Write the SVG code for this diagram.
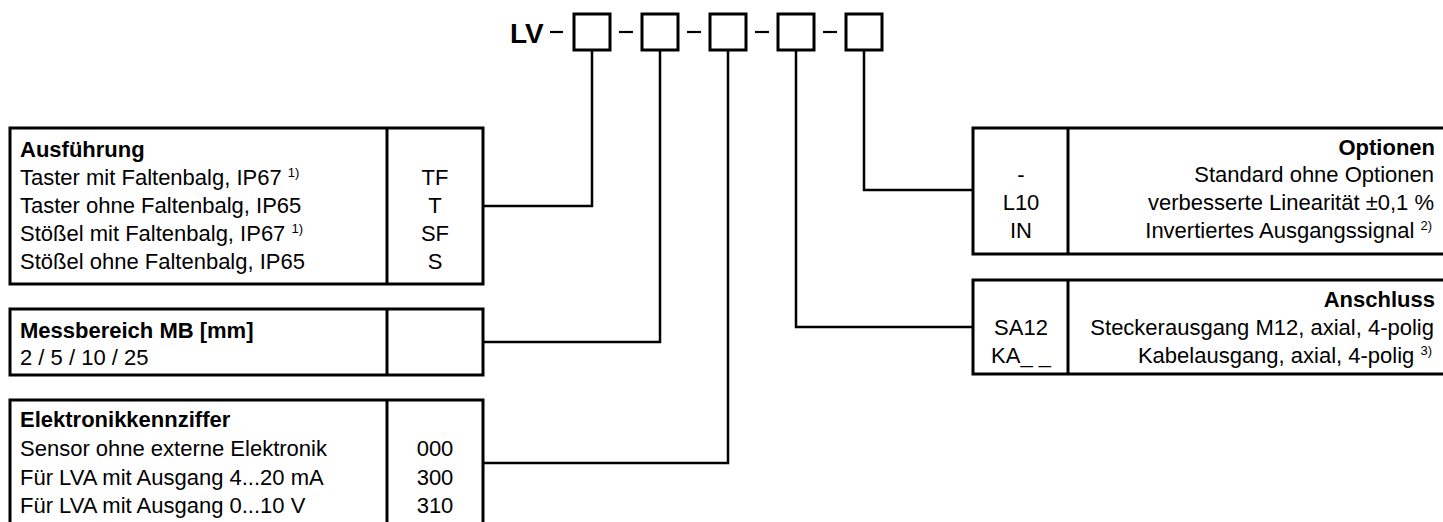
<svg xmlns="http://www.w3.org/2000/svg" width="1443" height="522" viewBox="0 0 1443 522">
  <style>
    text { font-family: "Liberation Sans", Arial, sans-serif; font-size: 22px; fill: #000; }
    .b { font-weight: bold; }
    .c { text-anchor: middle; }
    .r { text-anchor: end; }
    .sup { font-size: 13px; }
    .box { fill: none; stroke: #000; stroke-width: 3; }
    .div { stroke: #000; stroke-width: 3; }
    .wire { fill: none; stroke: #000; stroke-width: 2.5; }
    .dash { stroke: #000; stroke-width: 2.2; }
  </style>

  <!-- order code header -->
  <g id="code">
    <text x="510" y="43" class="b" style="font-size:28px">LV</text>
    <line class="dash" x1="550" y1="32" x2="563" y2="32"/>
    <line class="dash" x1="619" y1="32" x2="633" y2="32"/>
    <line class="dash" x1="687" y1="32" x2="701" y2="32"/>
    <line class="dash" x1="755" y1="32" x2="769" y2="32"/>
    <line class="dash" x1="823" y1="32" x2="837" y2="32"/>
    <rect class="box" x="574" y="14" width="36" height="36"/>
    <rect class="box" x="642" y="14" width="36" height="36"/>
    <rect class="box" x="710" y="14" width="36" height="36"/>
    <rect class="box" x="778" y="14" width="36" height="36"/>
    <rect class="box" x="846" y="14" width="36" height="36"/>
  </g>

  <!-- leader lines from code fields to option tables -->
  <g id="connectors">
    <polyline class="wire" points="592,50 592,206 483,206"/>
    <polyline class="wire" points="660,50 660,342 483,342"/>
    <polyline class="wire" points="728,50 728,463 483,463"/>
    <polyline class="wire" points="796,50 796,327 973,327"/>
    <polyline class="wire" points="864,50 864,190 973,190"/>
  </g>

  <g id="ausfuehrung">
    <rect class="box" x="10" y="128" width="473" height="156"/>
    <line class="div" x1="387" y1="128" x2="387" y2="284"/>
    <text x="20" y="157" class="b">Ausführung</text>
    <text x="20" y="185">Taster mit Faltenbalg, IP67 <tspan class="sup" dy="-8">1)</tspan></text>
    <text x="20" y="213">Taster ohne Faltenbalg, IP65</text>
    <text x="20" y="241">Stößel mit Faltenbalg, IP67 <tspan class="sup" dy="-8">1)</tspan></text>
    <text x="20" y="269">Stößel ohne Faltenbalg, IP65</text>
    <text x="435" y="185" class="c">TF</text>
    <text x="435" y="213" class="c">T</text>
    <text x="435" y="241" class="c">SF</text>
    <text x="435" y="269" class="c">S</text>
  </g>

  <g id="messbereich">
    <rect class="box" x="10" y="309" width="473" height="66"/>
    <line class="div" x1="387" y1="309" x2="387" y2="375"/>
    <text x="20" y="338" class="b">Messbereich MB [mm]</text>
    <text x="20" y="365">2 / 5 / 10 / 25</text>
  </g>

  <g id="elektronik">
    <rect class="box" x="10" y="400" width="473" height="128"/>
    <line class="div" x1="387" y1="400" x2="387" y2="528"/>
    <text x="20" y="427" class="b">Elektronikkennziffer</text>
    <text x="20" y="456">Sensor ohne externe Elektronik</text>
    <text x="20" y="485">Für LVA mit Ausgang 4...20 mA</text>
    <text x="20" y="513">Für LVA mit Ausgang 0...10 V</text>
    <text x="435" y="456" class="c">000</text>
    <text x="435" y="485" class="c">300</text>
    <text x="435" y="513" class="c">310</text>
  </g>

  <g id="optionen">
    <rect class="box" x="973" y="128" width="480" height="126"/>
    <line class="div" x1="1068" y1="128" x2="1068" y2="254"/>
    <text x="1435" y="155" class="b r">Optionen</text>
    <text x="1434" y="182" class="r">Standard ohne Optionen</text>
    <text x="1434" y="210" class="r">verbesserte Linearität ±0,1 %</text>
    <text x="1432" y="238" class="r">Invertiertes Ausgangssignal <tspan class="sup" dy="-8">2)</tspan></text>
    <text x="1021" y="182" class="c">-</text>
    <text x="1021" y="210" class="c">L10</text>
    <text x="1021" y="238" class="c">IN</text>
  </g>

  <g id="anschluss">
    <rect class="box" x="973" y="280" width="480" height="94"/>
    <line class="div" x1="1068" y1="280" x2="1068" y2="374"/>
    <text x="1435" y="307" class="b r">Anschluss</text>
    <text x="1434" y="335" class="r">Steckerausgang M12, axial, 4-polig</text>
    <text x="1432" y="363" class="r">Kabelausgang, axial, 4-polig <tspan class="sup" dy="-8">3)</tspan></text>
    <text x="1021" y="335" class="c">SA12</text>
    <text x="1021" y="363" class="c">KA_ _</text>
  </g>
</svg>
